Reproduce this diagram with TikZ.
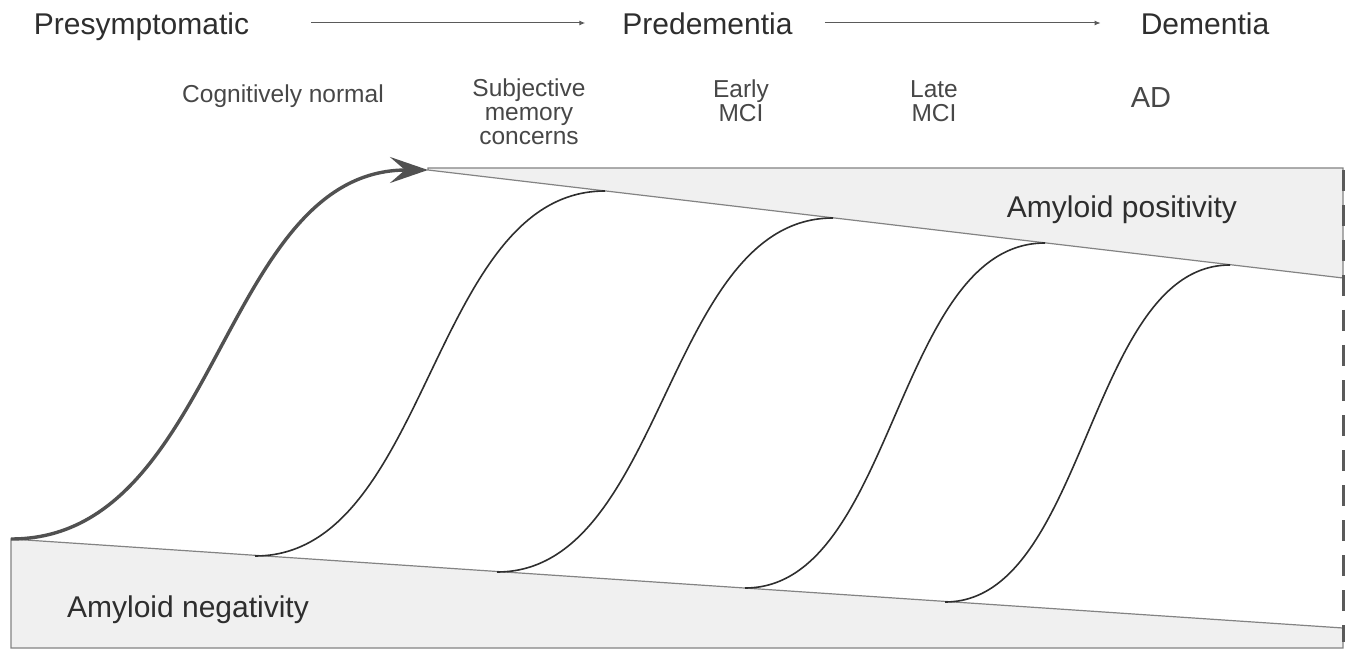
\documentclass[tikz,border=0pt]{standalone}
\usepackage{fontspec}
\setmainfont{Liberation Sans}
\usetikzlibrary{arrows.meta}
\definecolor{bandfill}{HTML}{F0F0F0}
\definecolor{txt}{HTML}{2E2E2E}
\definecolor{edge}{HTML}{5A5A5A}
\begin{document}
\begin{tikzpicture}[x=1pt,y=-1pt,
  stage/.style={font=\fontsize{30}{34}\selectfont, text=txt, inner sep=0pt, anchor=base},
  sub/.style={font=\fontsize{24.5}{24}\selectfont, text=txt!88, inner sep=0pt, align=center, anchor=north},
  amy/.style={font=\fontsize{30}{34}\selectfont, text=txt, inner sep=0pt, anchor=base},
  band/.style={fill=bandfill, draw=edge!75, line width=1.2pt},
  sig/.style={draw=txt, line width=1.6pt},
  lead/.style={draw=edge!90!black, line width=3.4pt, -{Stealth[length=38pt,width=26pt,inset=15pt]}},
  flow/.style={draw=edge, line width=1pt, -{Latex[length=6pt,width=5pt]}},
  limit/.style={draw=edge, line width=3pt, dash pattern=on 21pt off 14pt}]
\useasboundingbox (0,0) rectangle (1355,652);

% corner points
\coordinate (L0) at (11,539);
\coordinate (LB) at (11,648);
\coordinate (RB) at (1343,648);
\coordinate (RL) at (1343,628);
\coordinate (U0) at (428,170);
\coordinate (RT) at (1343,168);
\coordinate (RU) at (1343,278);

% bands
\path[band] (L0) -- (RL) -- (RB) -- (LB) -- cycle;
\path[band] (U0) -- (428,168) -- (RT) -- (RU) -- cycle;

% sigmoid curves
\coordinate (a2) at (255,556);  \coordinate (b2) at (605,191);
\coordinate (a3) at (497,572);  \coordinate (b3) at (833,218);
\coordinate (a4) at (745,588);  \coordinate (b4) at (1045,243);
\coordinate (a5) at (945,602);  \coordinate (b5) at (1230,265);

\draw[lead] (L0) .. controls +(208,0) and +(-208,0) .. (U0);
\draw[sig] (a2) .. controls +(175,0) and +(-175,0) .. (b2);
\draw[sig] (a3) .. controls +(168,0) and +(-168,0) .. (b3);
\draw[sig] (a4) .. controls +(150,0) and +(-150,0) .. (b4);
\draw[sig] (a5) .. controls +(142,0) and +(-142,0) .. (b5);

% dashed limit
\coordinate (D0) at (1343,170);
\coordinate (D1) at (1343,642);
\draw[limit] (D0) -- (D1);

% stage labels
\node[stage] (pre) at (141.5,35) {Presymptomatic};
\node[stage] (pred) at (707.5,35) {Predementia};
\node[stage] (dem) at (1205,35) {Dementia};
\draw[flow] ([xshift=62pt,yshift=12pt]pre.base east) -- ([xshift=-37pt,yshift=12pt]pred.base west);
\draw[flow] ([xshift=32pt,yshift=12pt]pred.base east) -- ([xshift=-40pt,yshift=12pt]dem.base west);

% sub labels
\node[sub] (cn) at (283,85) {Cognitively normal};
\node[sub] (smc) at (529,79) {Subjective\\memory\\concerns};
\node[sub] (emci) at (741,80) {Early\\MCI};
\node[sub] (lmci) at (934,80) {Late\\MCI};
\node[sub, font=\fontsize{29}{34}\selectfont] (ad) at (1151,87) {AD};

% band labels
\node[amy] (pos) at (1122,218) {Amyloid positivity};
\node[amy] (neg) at (188,617) {Amyloid negativity};
\end{tikzpicture}
\end{document}
